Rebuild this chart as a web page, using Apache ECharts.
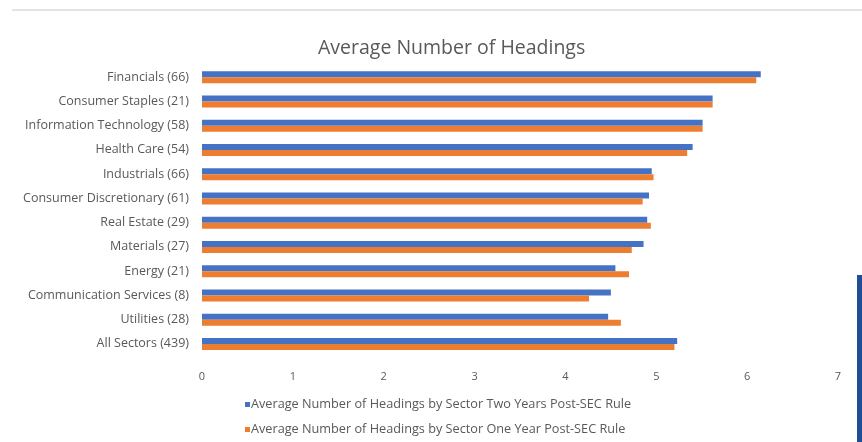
<!DOCTYPE html>
<html>
<head>
<meta charset="utf-8">
<script src="https://cdn.jsdelivr.net/npm/echarts@6/dist/echarts.min.js"></script>
<style>
html,body{margin:0;padding:0;background:#fff;}
#c{width:862px;height:442px;}
</style>
</head>
<body>
<div id="c"></div>
<script>
const categories = [
  "Financials (66)",
  "Consumer Staples (21)",
  "Information Technology (58)",
  "Health Care (54)",
  "Industrials (66)",
  "Consumer Discretionary (61)",
  "Real Estate (29)",
  "Materials (27)",
  "Energy (21)",
  "Communication Services (8)",
  "Utilities (28)",
  "All Sectors (439)"
];
const twoYears = [6.15, 5.62, 5.51, 5.40, 4.95, 4.92, 4.90, 4.86, 4.55, 4.50, 4.47, 5.23];
const oneYear  = [6.10, 5.62, 5.51, 5.34, 4.97, 4.85, 4.94, 4.73, 4.70, 4.26, 4.61, 5.20];
const seriesNames = [
  "Average Number of Headings by Sector Two Years Post-SEC Rule",
  "Average Number of Headings by Sector One Year Post-SEC Rule"
];
const xTicks = { min: 0, max: 7, interval: 1 };

const chart = echarts.init(document.getElementById('c'), null, {renderer: 'canvas'});
const font = "'Open Sans', 'Noto Sans', sans-serif";
chart.setOption({
  backgroundColor: '#ffffff',
  animation: false,
  title: {
    text: 'Average Number of Headings',
    left: 313,
    top: 33,
    textStyle: {fontFamily: font, fontSize: 19.5, fontWeight: 'normal', color: '#595959'}
  },
  legend: {
    orient: 'vertical',
    left: 240,
    top: 393,
    itemWidth: 5,
    itemHeight: 5,
    itemGap: 12,
    icon: 'rect',
    textStyle: {fontFamily: font, fontSize: 12.7, color: '#595959', padding: [0,0,0,-4]},
    data: seriesNames
  },
  grid: {left: 202, right: 24, top: 65, bottom: 86, containLabel: false},
  xAxis: {
    type: 'value',
    min: xTicks.min, max: xTicks.max, interval: xTicks.interval,
    axisLine: {show: false},
    axisTick: {show: false},
    splitLine: {show: false},
    axisLabel: {fontFamily: font, fontSize: 11, color: '#595959', margin: 15}
  },
  yAxis: {
    type: 'category',
    inverse: true,
    data: categories,
    axisLine: {show: false},
    axisTick: {show: false},
    axisLabel: {fontFamily: font, fontSize: 12.5, color: '#595959', margin: 13}
  },
  series: [
    {name: seriesNames[0], type: 'bar', data: twoYears, barWidth: 6, barGap: '0%',
     itemStyle: {color: '#4472C4'}},
    {name: seriesNames[1], type: 'bar', data: oneYear, barWidth: 6, barGap: '0%',
     itemStyle: {color: '#ED7D31'}}
  ],
  graphic: [
    {type: 'line', shape: {x1: 12, y1: 10, x2: 862, y2: 10}, style: {stroke: '#c8c8c8', lineWidth: 1}},
    {type: 'rect', shape: {x: 857, y: 275, width: 5, height: 167}, style: {fill: '#1f4e96'}}
  ]
});
</script>
</body>
</html>
